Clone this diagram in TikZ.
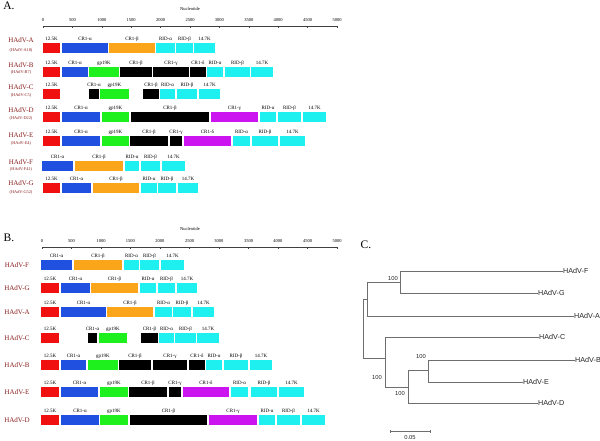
\documentclass[tikz,border=0pt]{standalone}
\usepackage{fontspec}
\setmainfont{Liberation Serif}
\newfontfamily\treefont{Liberation Sans}
\definecolor{cR}{HTML}{F01010}
\definecolor{cB}{HTML}{2050E0}
\definecolor{cO}{HTML}{FBA51A}
\definecolor{cC}{HTML}{1EF0F0}
\definecolor{cG}{HTML}{1EF01E}
\definecolor{cK}{HTML}{000000}
\definecolor{cM}{HTML}{CC14F0}
\definecolor{nameRed}{HTML}{8A2020}
\definecolor{treeGray}{HTML}{6E6E6E}
\tikzset{
  seglab/.style={font=\fontsize{5}{5}\selectfont, inner sep=0pt, anchor=base},
  rowname/.style={font=\fontsize{7}{7}\selectfont, text=nameRed, inner sep=0pt},
  rowsub/.style={font=\fontsize{4.3}{4.3}\selectfont, text=nameRed, inner sep=0pt},
  ticklab/.style={font=\fontsize{4.5}{4.5}\selectfont, inner sep=0pt},
  axisline/.style={draw=black!75, line width=0.6pt},
  paneltag/.style={font=\fontsize{11.5}{11.5}\selectfont, inner sep=0pt},
  treeline/.style={draw=treeGray, line width=0.6pt},
  leaf/.style={font=\treefont\fontsize{7.2}{7.2}\selectfont, inner sep=0pt, anchor=west, text=black!85},
  boot/.style={font=\treefont\fontsize{5.8}{5.8}\selectfont, inner sep=0pt, text=black!85}
}
\newcommand\genrow[3]{%
  \foreach \xa/\xb/\cc/\ll [count=\k] in {#3} {
    \fill[\cc] (\xa,#2) rectangle (\xb,#2+10);
    \node[seglab] (#1l\k) at ({(\xa+\xb)/2},#2-2.5) {\ll};
  }%
}
\newcommand\genaxis[4]{% id, x0, x5000, y
  \draw[axisline] (#2,#4) -- (#3,#4);
  \foreach \n [evaluate=\n as \xx using {#2+(#3-#2)*(\n/5000)}] in {0,500,...,5000} {
    \draw[axisline] (\xx,#4) -- (\xx,#4+2);
    \node[ticklab] (#1t\n) at (\xx,#4-6) {\n};
  }%
}
\begin{document}
\begin{tikzpicture}[x=1pt,y=-1pt]
\useasboundingbox (0,0) rectangle (600,440);
\fill[white] (0,0) rectangle (600,440);

% ---------- Panel A ----------
\node[paneltag] (tagA) at (9,6) {A.};
\node[ticklab] (nucA) at (190,9) {Nucleotide};
\genaxis{a}{43}{337}{26}

\node[rowname] (aAn) at (21,40) {HAdV-A};
\node[rowsub] (aAs) at (21,50) {(HAdV-A18)};
\genrow{aA}{43}{43/60/cR/12.5K, 62/108/cB/CR1-α, 109/155/cO/CR1-β, 156/175/cC/RID-α, 176/193/cC/RID-β, 194/215/cC/14.7K}

\node[rowname] (aBn) at (21,65) {HAdV-B};
\node[rowsub] (aBs) at (21,72) {(HAdV-B7)};
\genrow{aB}{67}{43/60/cR/12.5K, 62/88/cB/CR1-α, 89/119/cG/gp19K, 120/152/cK/CR1-β, 153/189/cK/CR1-γ, 190/206/cK/CR1-δ, 207/223/cC/RID-α, 225/250/cC/RID-β, 251/273/cC/14.7K}

\node[rowname] (aCn) at (21,87) {HAdV-C};
\node[rowsub] (aCs) at (21,95) {(HAdV-C5)};
\genrow{aC}{89}{43/60/cR/12.5K, 89/99/cK/CR1-α, 100/129/cG/gp19K, 143/159/cK/CR1-β, 160/175/cC/RID-α, 177/197/cC/RID-β, 199/220/cC/14.7K}

\node[rowname] (aDn) at (21,110) {HAdV-D};
\node[rowsub] (aDs) at (21,118) {(HAdV-D22)};
\genrow{aD}{112}{43/60/cR/12.5K, 62/100/cB/CR1-α, 102/129/cG/gp19K, 131/209/cK/CR1-β, 211/258/cM/CR1-γ, 260/276/cC/RID-α, 278/301/cC/RID-β, 303/326/cC/14.7K}

\node[rowname] (aEn) at (21,135) {HAdV-E};
\node[rowsub] (aEs) at (21,143) {(HAdV-E4)};
\genrow{aE}{136}{43/60/cR/12.5K, 62/100/cB/CR1-α, 102/129/cG/gp19K, 130/168/cK/CR1-β, 170/182/cK/CR1-γ, 184/231/cM/CR1-δ, 233/250/cC/RID-α, 252/278/cC/RID-β, 280/305/cC/14.7K}

\node[rowname] (aFn) at (21,162) {HAdV-F};
\node[rowsub] (aFs) at (21,169) {(HAdV-F41)};
\genrow{aF}{161}{42/73/cB/CR1-α, 75/123/cO/CR1-β, 125/139/cC/RID-α, 141/160/cC/RID-β, 162/185/cC/14.7K}

\node[rowname] (aGn) at (21,183) {HAdV-G};
\node[rowsub] (aGs) at (21,192) {(HAdV-G52)};
\genrow{aG}{183}{43/60/cR/12.5K, 62/91/cB/CR1-α, 93/139/cO/CR1-β, 141/157/cC/RID-α, 158/176/cC/RID-β, 178/198/cC/14.7K}

% ---------- Panel B ----------
\node[paneltag] (tagB) at (9,238) {B.};
\node[ticklab] (nucB) at (190,229) {Nucleotide};
\genaxis{b}{42}{337}{247}

\node[rowname] (bFn) at (17,265) {HAdV-F};
\genrow{bF}{260}{41/72/cB/CR1-α, 74/122/cO/CR1-β, 124/139/cC/RID-α, 140/159/cC/RID-β, 161/184/cC/14.7K}

\node[rowname] (bGn) at (17,288) {HAdV-G};
\genrow{bG}{283}{41/59/cR/12.5K, 61/90/cB/CR1-α, 91/138/cO/CR1-β, 140/156/cC/RID-α, 158/175/cC/RID-β, 177/197/cC/14.7K}

\node[rowname] (bAn) at (17,312) {HAdV-A};
\genrow{bA}{307}{41/59/cR/12.5K, 61/106/cB/CR1-α, 107/153/cO/CR1-β, 155/172/cC/RID-α, 173/191/cC/RID-β, 193/214/cC/14.7K}

\node[rowname] (bCn) at (17,338) {HAdV-C};
\genrow{bC}{333}{41/59/cR/12.5K, 88/97/cK/CR1-α, 99/127/cG/gp19K, 141/158/cK/CR1-β, 159/174/cC/RID-α, 175/196/cC/RID-β, 197/219/cC/14.7K}

\node[rowname] (bBn) at (17,365) {HAdV-B};
\genrow{bB}{360}{41/59/cR/12.5K, 61/86/cB/CR1-α, 88/118/cG/gp19K, 119/151/cK/CR1-β, 153/187/cK/CR1-γ, 189/205/cK/CR1-δ, 206/222/cC/RID-α, 224/248/cC/RID-β, 250/272/cC/14.7K}

\node[rowname] (bEn) at (17,392) {HAdV-E};
\genrow{bE}{387}{41/59/cR/12.5K, 61/98/cB/CR1-α, 100/128/cG/gp19K, 129/167/cK/CR1-β, 169/181/cK/CR1-γ, 183/229/cM/CR1-δ, 231/248/cC/RID-α, 251/277/cC/RID-β, 279/304/cC/14.7K}

\node[rowname] (bDn) at (17,420) {HAdV-D};
\genrow{bD}{415}{41/59/cR/12.5K, 61/99/cB/CR1-α, 100/128/cG/gp19K, 130/207/cK/CR1-β, 209/257/cM/CR1-γ, 259/275/cC/RID-α, 277/300/cC/RID-β, 302/325/cC/14.7K}

% ---------- Panel C ----------
\node[paneltag] (tagC) at (366,245) {C.};
% internal nodes
\coordinate (rt) at (363,299);
\coordinate (rb) at (363,358);
\coordinate (nafgT) at (367,282);
\coordinate (nafgM) at (367,299);
\coordinate (nafgB) at (367,316);
\coordinate (nfgT) at (400,271);
\coordinate (nfgM) at (400,282);
\coordinate (nfgB) at (400,293);
\coordinate (nlT) at (385,337);
\coordinate (nlM) at (385,358);
\coordinate (nlB) at (385,387);
\coordinate (ndT) at (408,370);
\coordinate (ndM) at (408,387);
\coordinate (ndB) at (408,403);
\coordinate (nbeT) at (428,360);
\coordinate (nbeM) at (428,370);
\coordinate (nbeB) at (428,382);
% leaves
\node[leaf] (lF) at (563,271) {HAdV-F};
\node[leaf] (lG) at (538,293) {HAdV-G};
\node[leaf] (lA) at (574,316) {HAdV-A};
\node[leaf] (lC) at (539,337) {HAdV-C};
\node[leaf] (lB) at (575,360) {HAdV-B};
\node[leaf] (lE) at (523,382) {HAdV-E};
\node[leaf] (lD) at (538,403) {HAdV-D};
\draw[treeline] (rt) -- (rb);
\draw[treeline] (rt) -- (nafgM);
\draw[treeline] (nafgT) -- (nafgB);
\draw[treeline] (nafgT) -- (nfgM);
\draw[treeline] (nfgT) -- (nfgB);
\draw[treeline] (nfgT) -- (lF.west);
\draw[treeline] (nfgB) -- (lG.west);
\draw[treeline] (nafgB) -- (lA.west);
\draw[treeline] (rb) -- (nlM);
\draw[treeline] (nlT) -- (nlB);
\draw[treeline] (nlT) -- (lC.west);
\draw[treeline] (nlB) -- (ndM);
\draw[treeline] (ndT) -- (ndB);
\draw[treeline] (ndT) -- (nbeM);
\draw[treeline] (nbeT) -- (nbeB);
\draw[treeline] (nbeT) -- (lB.west);
\draw[treeline] (nbeB) -- (lE.west);
\draw[treeline] (ndB) -- (lD.west);
% bootstrap values
\node[boot] (b1) at (393,278) {100};
\node[boot] (b2) at (377,377) {100};
\node[boot] (b3) at (421,356) {100};
\node[boot] (b4) at (400,393) {100};
% scale bar
\coordinate (sbL) at (390,431);
\coordinate (sbR) at (430,431);
\draw[treeline] (sbL) -- (sbR);
\draw[treeline] ([yshift=-1.5pt]sbL) -- ([yshift=1.5pt]sbL);
\draw[treeline] ([yshift=-1.5pt]sbR) -- ([yshift=1.5pt]sbR);
\node[boot] (sbT) at (410,437) {0.05};
\end{tikzpicture}
\end{document}
